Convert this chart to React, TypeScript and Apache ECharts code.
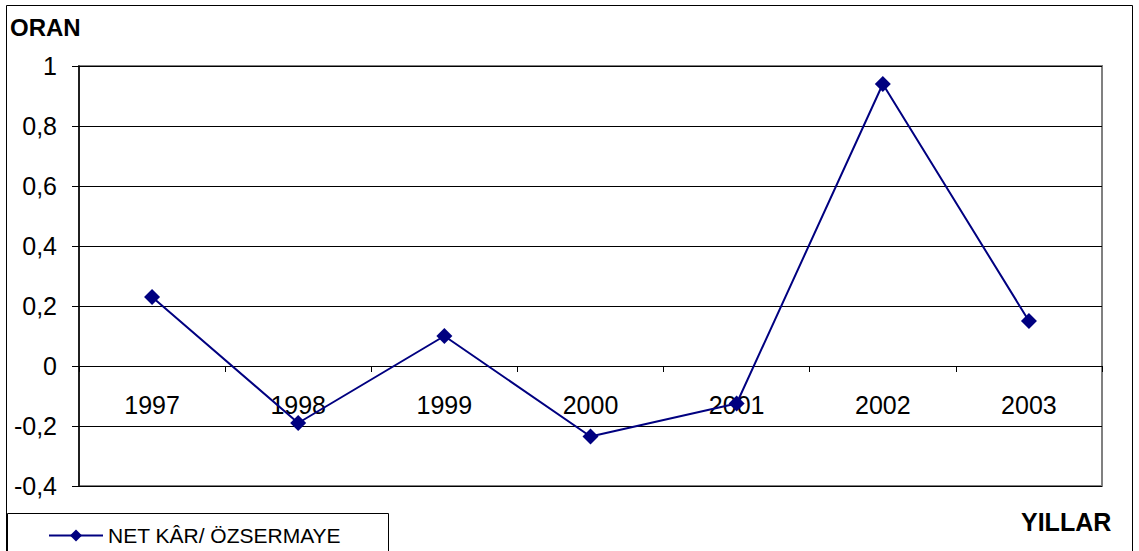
import React, { useEffect, useRef } from "react";
import * as echarts from "echarts";

const years = ["1997", "1998", "1999", "2000", "2001", "2002", "2003"];
const netKarOzsermaye = [0.23, -0.19, 0.1, -0.235, -0.125, 0.94, 0.15];
const seriesName = "NET KÂR/ ÖZSERMAYE";
const yAxisTitle = "ORAN";
const xAxisTitle = "YILLAR";

const FONT = "'Liberation Sans', Arial, sans-serif";

export default function App() {
  const ref = useRef<HTMLDivElement>(null);
  useEffect(() => {
    document.body.style.margin = "0";
    const chart = echarts.init(ref.current!, undefined, { renderer: "svg" });
    chart.setOption({
      animation: false,
      backgroundColor: "#ffffff",
      textStyle: { fontFamily: FONT },
      grid: {
        left: 79,
        right: 37,
        top: 66,
        bottom: 65,
        show: true,
        borderColor: "#808080",
        borderWidth: 2,
        backgroundColor: "transparent",
      },
      legend: {
        left: 48,
        top: 525,
        padding: 0,
        itemWidth: 54,
        itemHeight: 15,
        itemGap: 4,
        textStyle: { fontSize: 21, color: "#000", fontFamily: FONT },
        data: [{ name: seriesName }],
      },
      xAxis: {
        type: "category",
        data: years,
        boundaryGap: true,
        axisLine: { onZero: true, lineStyle: { color: "#000", width: 1 } },
        axisTick: { show: true, inside: false, length: 6, lineStyle: { color: "#000" } },
        axisLabel: { fontSize: 25, color: "#000", margin: -94, fontFamily: FONT },
        splitLine: { show: false },
        z: 1,
      },
      yAxis: {
        type: "value",
        min: -0.4,
        max: 1,
        interval: 0.2,
        axisLine: { show: true, lineStyle: { color: "#000", width: 1.5 } },
        axisTick: { show: true, length: 7, lineStyle: { color: "#000" } },
        axisLabel: {
          fontSize: 25,
          color: "#000",
          margin: 22,
          fontFamily: FONT,
          formatter: (v: number) => String(Math.round(v * 10) / 10).replace(".", ","),
        },
        splitLine: { show: true, lineStyle: { color: "#000", width: 1 } },
      },
      series: [
        {
          name: seriesName,
          type: "line",
          data: netKarOzsermaye,
          symbol: "diamond",
          symbolSize: 16,
          color: "#000080",
          lineStyle: { color: "#000080", width: 2 },
          itemStyle: { color: "#000080" },
          z: 5,
        },
      ],
      graphic: [
        {
          type: "rect",
          shape: { x: 6.5, y: 5.5, width: 1126, height: 560 },
          style: { fill: "none", stroke: "#000", lineWidth: 1 },
          silent: true,
        },
        {
          type: "rect",
          shape: { x: 7.5, y: 513.5, width: 381, height: 60 },
          style: { fill: "none", stroke: "#000", lineWidth: 1 },
          silent: true,
        },
        {
          type: "text",
          left: 10,
          top: 15,
          style: { text: yAxisTitle, fontSize: 24, fontWeight: "bold", fill: "#000", fontFamily: FONT },
        },
        {
          type: "text",
          left: 1021,
          top: 509,
          style: { text: xAxisTitle, fontSize: 25, fontWeight: "bold", fill: "#000", fontFamily: FONT },
        },
      ],
    });
    return () => chart.dispose();
  }, []);
  return (
    <div
      ref={ref}
      style={{ position: "absolute", left: 0, top: 0, width: 1139, height: 551 }}
    />
  );
}
